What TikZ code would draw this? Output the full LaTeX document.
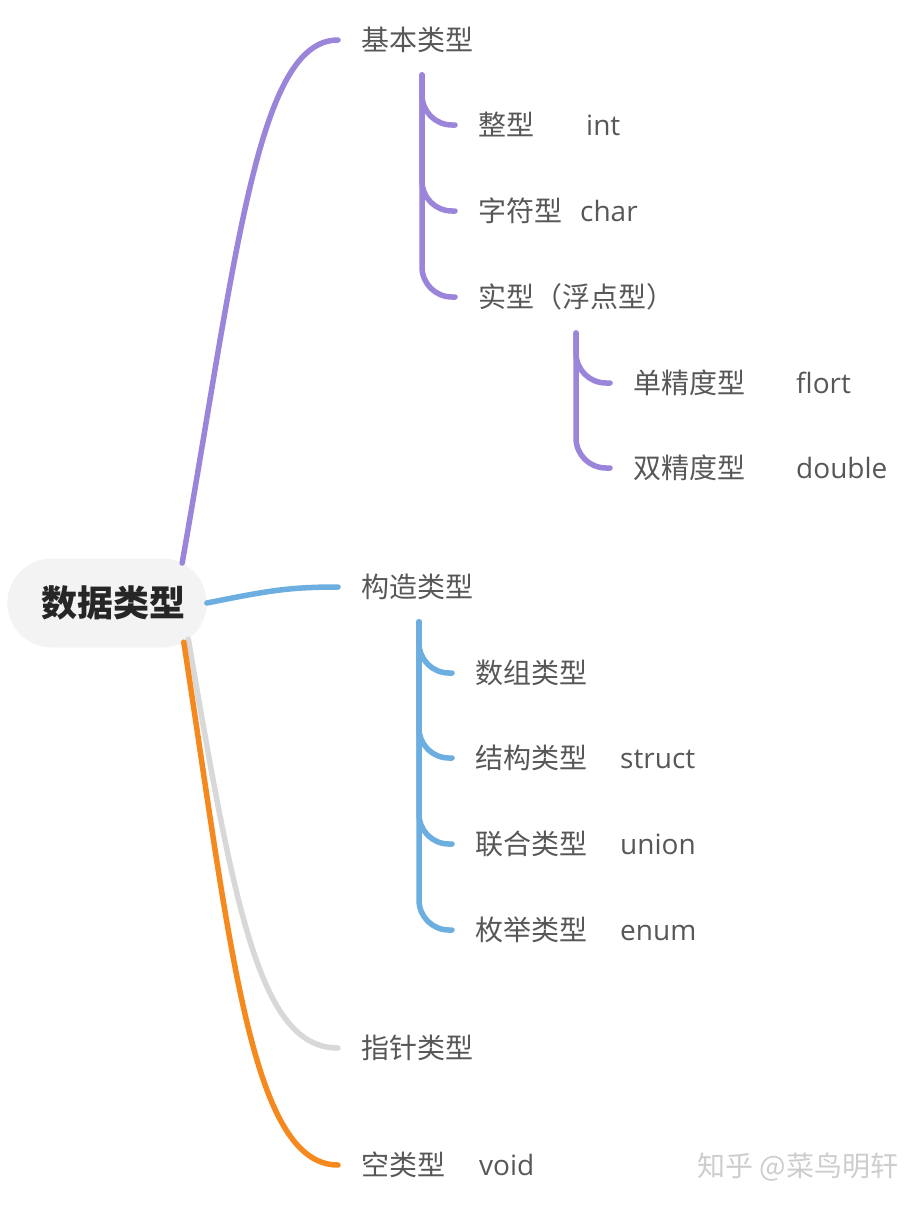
\documentclass[tikz,border=0pt]{standalone}
\usepackage{xcolor}
\usepackage{fontspec}
\setmainfont{Open Sans}
\newfontfamily\cjk{Noto Sans CJK SC}
\usetikzlibrary{shapes.misc}

\definecolor{purp}{RGB}{155,133,218}
\definecolor{sky}{RGB}{108,174,224}
\definecolor{ash}{RGB}{216,216,216}
\definecolor{tang}{RGB}{246,137,30}
\definecolor{ink}{RGB}{87,87,87}
\definecolor{rootfill}{RGB}{243,243,243}

\tikzset{
  lbl/.style={anchor=west, inner xsep=23pt, inner ysep=0pt, text height=24pt, text depth=3pt,
    text=ink, font=\cjk\fontsize{28}{30}\selectfont},
  eng/.style={lbl, inner xsep=0pt, font=\fontsize{28}{30}\selectfont},
  branch/.style={line width=5.5pt, line cap=round},
  twig/.style={line width=5.5pt, line cap=round, rounded corners=30pt}
}

\begin{document}
\begin{tikzpicture}[x=1pt, y=-1pt]
\useasboundingbox (0,0) rectangle (920,1207);

% root
\node[rounded rectangle, fill=rootfill, minimum width=206pt, minimum height=89pt,
  font=\cjk\bfseries\fontsize{36}{40}\selectfont, text={rgb,255:red,38;green,38;blue,38}]
  (root) at (107,603) {\hspace*{12pt}数据类型};

% main labels
\node[lbl] (jb) at (338,40) {基本类型};
\node[lbl] (gz) at (338,587) {构造类型};
\node[lbl] (zz) at (338,1048) {指针类型};
\node[lbl] (kl) at (338,1165) {空类型};
\node[eng] (kleng) at (479,1165) {void};

% basic types
\coordinate (jbtop) at (422,75);
\node[lbl] (zx) at (455,125) {整型};
\node[eng] (zxeng) at (586,125) {int};
\node[lbl] (zf) at (455,211) {字符型};
\node[eng] (zfeng) at (580,211) {char};
\node[lbl] (sx) at (455,297) {实型（浮点型）};

\coordinate (sxtop) at (576,333);
\node[lbl] (dj) at (610,383) {单精度型};
\node[eng] (djeng) at (796,383) {flort};
\node[lbl] (sj) at (610,468) {双精度型};
\node[eng] (sjeng) at (796,468) {double};

% composite types
\coordinate (gztop) at (419,622);
\node[lbl] (sz) at (452,673) {数组类型};
\node[lbl] (jg) at (452,758) {结构类型};
\node[eng] (jgeng) at (620,758) {struct};
\node[lbl] (lh) at (452,844) {联合类型};
\node[eng] (lheng) at (620,844) {union};
\node[lbl] (mj) at (452,930) {枚举类型};
\node[eng] (mjeng) at (620,930) {enum};

% watermark
\node[anchor=west, text={rgb,255:red,205;green,205;blue,205}, font=\cjk\fontsize{28}{30}\selectfont]
  (wm) at (694,1167) {知乎 @菜鸟明轩};

% branches
\draw[branch, purp] (root.28) .. controls +(55,-313) and +(-80,0) .. (jb.west);
\draw[branch, sky] (root.east) .. controls +(60,-12) and +(-50,0) .. (gz.west);
\draw[branch, ash] (root.-24) .. controls +(47,276) and +(-77,0) .. (zz.west);
\draw[branch, tang] (root.-27) .. controls +(47,305) and +(-87,0) .. (kl.west);

\foreach \leaf in {zx,zf,sx}
  \draw[twig, purp] (jbtop) |- (\leaf.west);
\foreach \leaf in {dj,sj}
  \draw[twig, purp] (sxtop) |- (\leaf.west);
\foreach \leaf in {sz,jg,lh,mj}
  \draw[twig, sky] (gztop) |- (\leaf.west);
\end{tikzpicture}
\end{document}
